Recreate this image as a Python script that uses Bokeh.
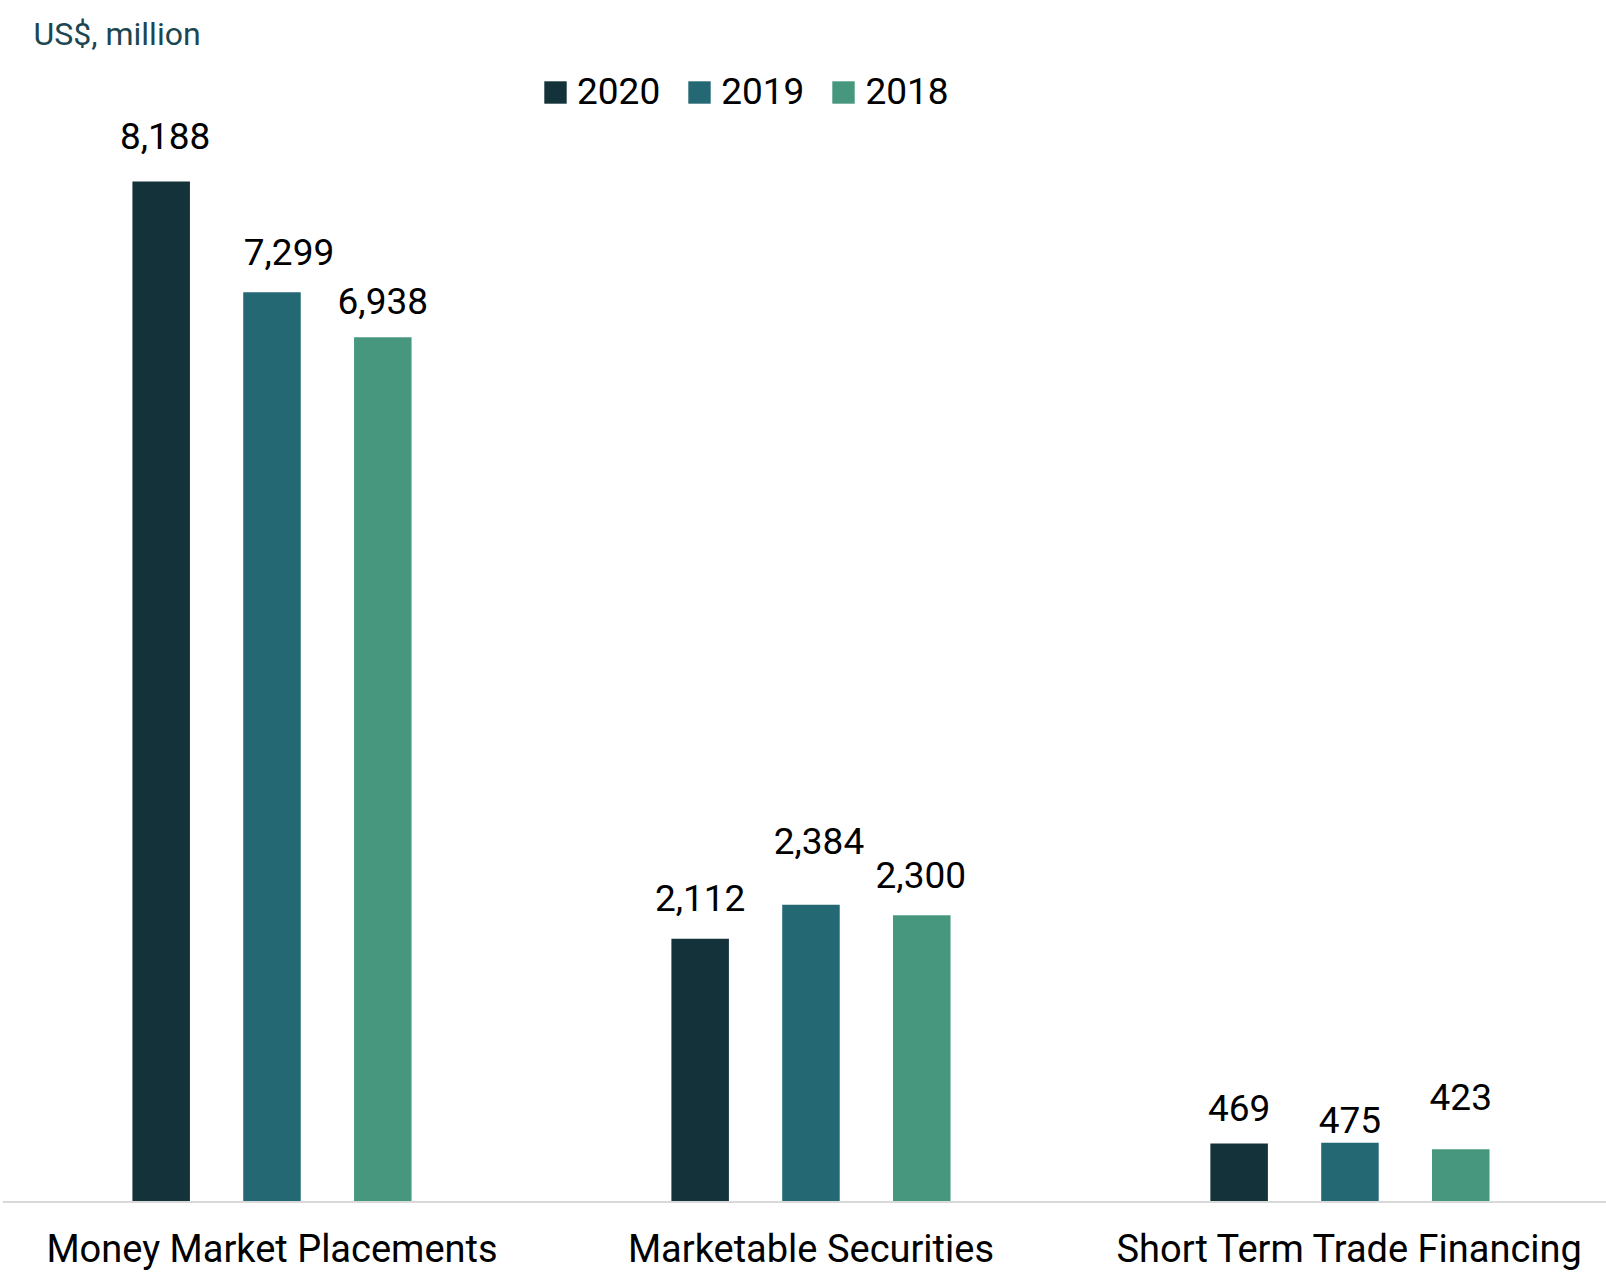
from bokeh.plotting import figure
from bokeh.models import Range1d, Label, Legend, LegendItem, ColumnDataSource, Span
from bokeh.transform import dodge
from bokeh.embed import file_html
from bokeh.resources import INLINE

categories = ["Money Market Placements", "Marketable Securities", "Short Term Trade Financing"]
years = ["2020", "2019", "2018"]
values_2020 = [8188, 2112, 469]
values_2019 = [7299, 2384, 475]
values_2018 = [6938, 2300, 423]
unit_label = "US$, million"

series = {"2020": values_2020, "2019": values_2019, "2018": values_2018}
colors = {"2020": "#143239", "2019": "#246874", "2018": "#46977e"}
offsets = {"2020": -0.2056, "2019": 0.0, "2018": 0.2056}
# value-label nudges in screen px (horizontal shift, gap from bar top to text baseline)
label_dx = {"2020": [4, 0, 0], "2019": [17, 8, 0], "2018": [0, -1, 0]}
label_gap = {"2020": [32, 27, 22], "2019": [27, 50, 9], "2018": [23, 27, 39]}

FONT = "Roboto"
pos = [i + 0.5 for i in range(len(categories))]

p = figure(width=1606, height=1273, output_backend="svg", toolbar_location=None,
           x_axis_type=None, y_axis_type=None,
           x_range=Range1d(0, 2.976), y_range=Range1d(-573.7, 9640.3),
           min_border_left=2, min_border_right=0, min_border_top=0, min_border_bottom=0)
p.outline_line_color = None
p.grid.visible = False
p.background_fill_color = "white"
p.border_fill_color = "white"

p.add_layout(Span(location=0, dimension="width", line_color="#d9d9d9", line_width=2))

cat_src = ColumnDataSource(dict(x=pos, y=[0] * len(categories), text=categories))
p.text(x="x", y="y", text="text", source=cat_src, y_offset=47,
       text_align="center", text_baseline="middle",
       text_font={"value": FONT}, text_font_size={"value": "38px"}, text_color="black")

items = []
for y in years:
    vals = series[y]
    src = ColumnDataSource(dict(
        x=pos, top=vals,
        label=[f"{v:,}" for v in vals],
        dx=label_dx[y],
        dy=[-(g + 13.4) for g in label_gap[y]],
    ))
    r = p.vbar(x=dodge("x", offsets[y]), top="top", bottom=0, width=0.1067, source=src,
               fill_color=colors[y], line_color=None)
    p.text(x=dodge("x", offsets[y]), y="top", text="label", x_offset="dx", y_offset="dy",
           source=src, text_align="center", text_baseline="middle",
           text_font={"value": FONT}, text_font_size={"value": "37px"}, text_color="black")
    items.append(LegendItem(label=y, renderers=[r]))

legend = Legend(items=items, orientation="horizontal", location=(539, 1160),
                border_line_alpha=0, background_fill_alpha=0,
                glyph_width=28, glyph_height=28, label_standoff=8, spacing=25,
                padding=0, margin=0, label_text_font=FONT, label_text_font_size="37px",
                label_text_color="black")
p.add_layout(legend)

p.add_layout(Label(x=31, y=1240, x_units="screen", y_units="screen", text=unit_label,
                   text_font=FONT, text_font_size="32px", text_color="#1b4652",
                   text_baseline="middle"))

open("out.html", "w").write(file_html(p, INLINE))
